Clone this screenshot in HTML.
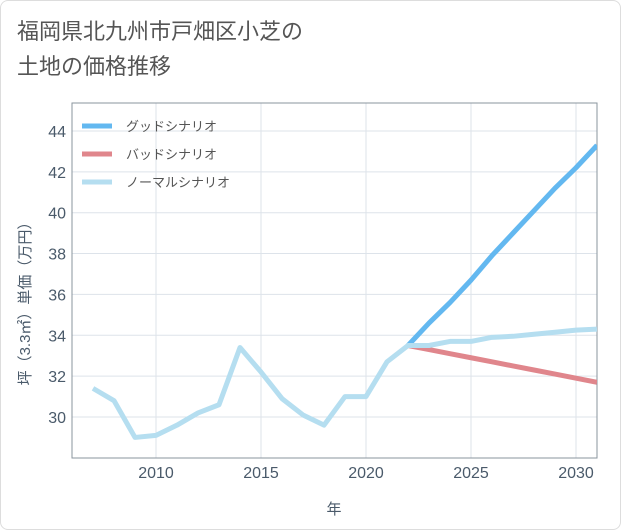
<!DOCTYPE html>
<html><head><meta charset="utf-8"><style>
body{margin:0;background:#fff;}
#wrap{position:relative;width:619px;height:528px;border:1px solid #ddd;border-radius:8px;font-family:"Liberation Sans","Noto Sans CJK JP",sans-serif;}
#title{position:absolute;left:16px;top:13px;font-size:22px;line-height:35px;color:#555;}
</style></head><body>
<div id="wrap">
<div id="title">福岡県北九州市戸畑区小芝の<br>土地の価格推移</div>
<svg id="chart" width="621" height="530" style="position:absolute;left:-1px;top:-1px"></svg>
</div>
<script>
const years=[2007,2008,2009,2010,2011,2012,2013,2014,2015,2016,2017,2018,2019,2020,2021,2022,2023,2024,2025,2026,2027,2028,2029,2030,2031];
const normalVals=[31.4,30.8,29.0,29.1,29.6,30.2,30.6,33.4,32.2,30.9,30.1,29.6,31.0,31.0,32.7,33.5,33.5,33.7,33.7,33.9,33.95,34.05,34.15,34.25,34.3];
const futureYears=[2022,2023,2024,2025,2026,2027,2028,2029,2030,2031];
const goodVals=[33.5,34.6,35.6,36.7,37.9,39.0,40.1,41.2,42.2,43.3];
const badVals=[33.5,33.3,33.1,32.9,32.7,32.5,32.3,32.1,31.9,31.7];
const xTicks=[2010,2015,2020,2025,2030];
const yTicks=[30,32,34,36,38,40,42,44];
const legendLabels=["グッドシナリオ","バッドシナリオ","ノーマルシナリオ"];
const legendColors=["#63b8f0","#e0868c","#b5def0"];
const svg=document.getElementById('chart');const NS='http://www.w3.org/2000/svg';
const L=72,R=597,T=103,B=458;
const xs=y=>156+(y-2010)*21;
const ys=v=>417-(v-30)*20.43;
function mk(t,a){const e=document.createElementNS(NS,t);for(const k in a)e.setAttribute(k,a[k]);svg.appendChild(e);return e;}
xTicks.forEach(t=>{const g=mk('line',{x1:xs(t),x2:xs(t),y1:T,y2:B,stroke:'#dde3ea'});


const tx=mk('text',{x:xs(t),y:478,'text-anchor':'middle','font-size':16,fill:'#4a5a6a'});tx.textContent=t;

});
yTicks.forEach(t=>{const g=mk('line',{x1:L,x2:R,y1:ys(t),y2:ys(t),stroke:'#dde3ea'});


const tx=mk('text',{x:66,y:ys(t)+6,'text-anchor':'end','font-size':16,fill:'#4a5a6a'});tx.textContent=t;

});
const fr=mk('rect',{x:L,y:T,width:R-L,height:B-T,fill:'none',stroke:'#8a949e'});


const xt=mk('text',{x:334,y:514,'text-anchor':'middle','font-size':15,fill:'#4a5a6a'});xt.textContent='年';


const yt=mk('text',{x:0,y:0,'text-anchor':'middle','font-size':15,fill:'#4a5a6a',transform:'translate(30,300) rotate(-90)'});yt.textContent='坪（3.3㎡）単価（万円）';


const defs=mk('clipPath',{id:'clp'});const cr=document.createElementNS(NS,'rect');cr.setAttribute('x',L);cr.setAttribute('y',T);cr.setAttribute('width',R-L);cr.setAttribute('height',B-T);defs.appendChild(cr);
function line(xv,vals,color,name){const p=mk('polyline',{points:xv.map((y,i)=>xs(y)+','+ys(vals[i])).join(' '),fill:'none',stroke:color,'stroke-width':5,'stroke-linejoin':'round','clip-path':'url(#clp)'});

}
line(futureYears,badVals,legendColors[1],'bad-scenario-line');
line(futureYears,goodVals,legendColors[0],'good-scenario-line');
line(years,normalVals,legendColors[2],'normal-scenario-line');
legendLabels.forEach((lb,i)=>{const y=126+i*28;const l=mk('line',{x1:82,x2:112,y1:y,y2:y,stroke:legendColors[i],'stroke-width':5});


const t=mk('text',{x:126,y:y+5,'font-size':13,fill:'#555'});t.textContent=lb;

});
</script>
</body></html>
